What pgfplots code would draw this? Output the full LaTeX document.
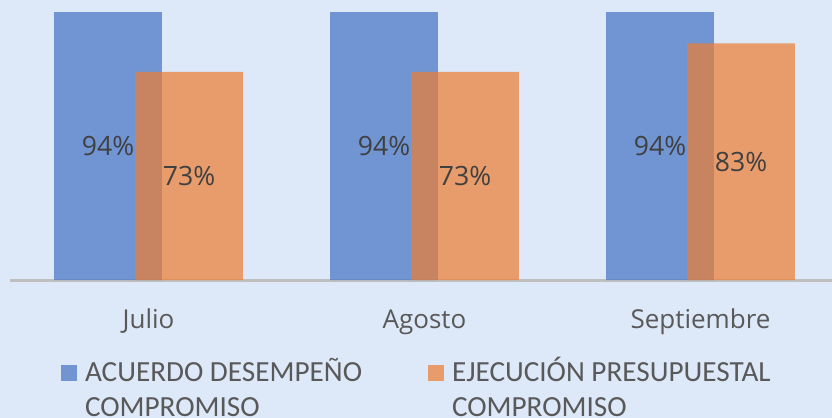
\documentclass[border=0pt]{standalone}
\usepackage{fontspec}
\usepackage{pgfplots}
\usepackage{pgfplotstable}
\pgfplotsset{compat=1.18}
\newfontfamily\opensans{Open Sans}
\newfontfamily\carlito{Carlito}
\definecolor{bgcol}{RGB}{221,232,248}
\definecolor{acuerdo}{RGB}{68,114,196}
\definecolor{ejec}{RGB}{237,125,49}
\definecolor{axgray}{RGB}{191,191,191}
\definecolor{lbl}{RGB}{64,64,64}
\definecolor{txt}{RGB}{89,89,89}

% porcentajes por mes
\pgfplotstableread{
idx acuerdo ejecucion
0   94      73
1   94      73
2   94      83
}\datos

\newcommand{\leg}[2]{\makebox[171.5pt][l]{\begin{tabular}[t]{@{}l@{}}#1\\#2\end{tabular}}}

\begin{document}
\begin{tikzpicture}
\fill[bgcol] (-74.25pt,-69pt) rectangle (341.75pt,140pt);
\begin{axis}[
  at={(0pt,0pt)}, anchor=origin,
  x=138pt, y=1.425pt,
  xmin=-0.5, xmax=2.4764, ymin=0, ymax=98.25,
  hide y axis,
  axis x line*=bottom,
  x axis line style={axgray, line width=1.5pt, -},
  xtick={0,1,2}, xticklabels={Julio,Agosto,Septiembre},
  major tick length=0pt,
  xticklabel style={font=\opensans\fontsize{13}{15}\selectfont, text=txt, anchor=base, yshift=-24pt},
  ybar, bar width=0.391,
  legend columns=2,
  legend image code/.code={\fill[#1] (0pt,0.5pt) rectangle (8pt,8.5pt);},
  legend style={at={(0.0615,-0.2757)}, anchor=north west, draw=none, fill=none,
    inner sep=0pt, outer sep=0pt,
    cells={anchor=base west},
    /tikz/every odd column/.append style={column sep=4pt},
    /tikz/every even column/.append style={column sep=0pt},
    nodes={font=\carlito\fontsize{14.6}{17.5}\selectfont, text=txt, inner sep=0pt}},
]
\addplot[fill=acuerdo, fill opacity=0.7, draw=none, bar shift=-0.1467]
  table[x=idx, y=acuerdo]{\datos};
\addlegendentry{\leg{ACUERDO DESEMPEÑO}{COMPROMISO}}
\addplot[fill=ejec, fill opacity=0.7, draw=none, bar shift=0.1467]
  table[x=idx, y=ejecucion]{\datos};
\addlegendentry{\leg{EJECUCIÓN PRESUPUESTAL}{COMPROMISO}}

\begin{scope}[every node/.style={font=\opensans\fontsize{13.3}{15}\selectfont, text=lbl, anchor=center}]
\node at (axis cs:-0.1467,47)   {94\%};
\node at (axis cs:0.1467,36.5)  {73\%};
\node at (axis cs:0.8533,47)    {94\%};
\node at (axis cs:1.1467,36.5)  {73\%};
\node at (axis cs:1.8533,47)    {94\%};
\node at (axis cs:2.1467,41.5)  {83\%};
\end{scope}
\end{axis}
\pgfresetboundingbox
\path[use as bounding box] (-74.25pt,-69pt) rectangle (341.75pt,140pt);
\end{tikzpicture}
\end{document}
